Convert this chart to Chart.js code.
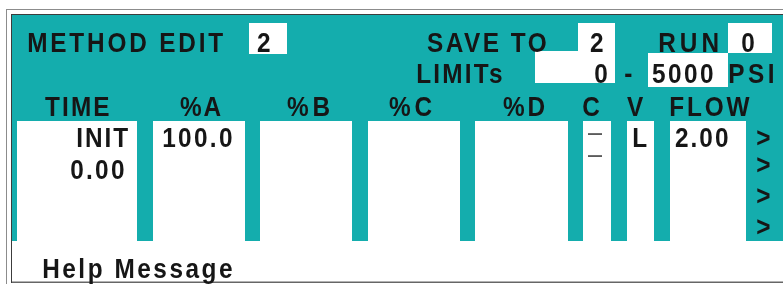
<!DOCTYPE html>
<html>
<head>
<meta charset="utf-8">
<script src="https://cdn.jsdelivr.net/npm/chart.js@4/dist/chart.umd.min.js"></script>
<style>
  html, body { margin: 0; padding: 0; background: #ffffff; }
  #wrap { width: 783px; height: 285px; position: relative; }
</style>
</head>
<body>
<div id="wrap"><canvas id="c"></canvas></div>
<script>
// ---- Screen content (data) ----
const columnHeaders = ['TIME', '%A', '%B', '%C', '%D', 'C', 'V', 'FLOW'];
const timeValues = ['INIT', '0.00'];
const pctAValues = ['100.0'];
const valveValues = ['L'];
const flowValues = ['2.00'];
const methodNumber = '2';
const saveToNumber = '2';
const runNumber = '0';
const limitLow = '0';
const limitHigh = '5000';
const helpText = 'Help Message';

// ---- Layout (screen units, mapped through the chart scales) ----
const layout = {
  colLeft:  [17, 153, 260, 368, 475, 583, 627, 670],
  colRight: [137, 245, 352, 460, 568, 611, 654, 746],
  headerInk: [[45,109],[180,221],[287,329],[389,432],[503,545],[583,601],[627,647],[670,750]],
  cellTop: 121, cellBottom: 241
};

const TEAL = '#14adad';
const INK = '#161616';
const HSCALE = 0.87;

function rect(x0, x1, y0, y1) { return { x: [x0, x1], y: (y0 + y1) / 2, h: y1 - y0 }; }
function ds(label, rects, color, order) {
  return {
    label, order,
    data: rects.map(r => ({ x: r.x, y: r.y })),
    backgroundColor: color,
    barThickness: rects[0].h,
    grouped: false,
    borderWidth: 0,
    inflateAmount: 0
  };
}

const cellRects = layout.colLeft.map((l, i) => rect(l, layout.colRight[i], layout.cellTop, layout.cellBottom));

const datasets = [
  ds('teal panel', [rect(12, 783, 15, 241)], TEAL, 20),
  ds('outer frame v', [rect(6, 7, 9, 284)], '#8c8c8c', 19),
  ds('outer frame h', [rect(6, 783, 9, 10)], '#8c8c8c', 19),
  ds('inner frame v', [rect(11, 12, 14, 283)], '#3c3c3c', 18),
  ds('inner frame h', [rect(11, 783, 14, 15)], '#3c3c3c', 18),
  ds('bottom line', [rect(11, 783, 281.5, 283)], '#666666', 18),
  ds('cells', cellRects, '#ffffff', 10),
  ds('method box', [rect(249, 287, 23, 54)], '#ffffff', 9),
  ds('save box', [rect(578, 615, 23, 51)], '#ffffff', 9),
  ds('limit low box', [rect(535, 615, 51, 83)], '#ffffff', 9),
  ds('run box', [rect(728, 772, 23, 53)], '#ffffff', 9),
  ds('limit high box', [rect(648, 728, 53, 87)], '#ffffff', 9),
  ds('dash 1', [rect(588, 602, 133.3, 134.8)], '#333333', 2),
  ds('dash 2', [rect(588, 602, 155.3, 156.8)], '#333333', 2)
];

// Text items: [text, inkLeft, inkRight, y, mode]  mode 'bottom' = y is ink bottom, else baseline
const texts = [
  ['METHOD EDIT', 28, 223, 52],
  [methodNumber, 257, 272, 52],
  ['SAVE TO', 427, 546, 52],
  [saveToNumber, 590, 603, 52],
  ['RUN', 659, 718, 52],
  [runNumber, 742, 753, 52],
  ['LIMITs', 417, 502, 83],
  [limitLow, 595, 607, 83],
  ['-', 625, 631, 83],
  [limitHigh, 652, 713, 83],
  ['PSI', 729, 773, 83],
  [timeValues[0], 77, 128, 147],
  [timeValues[1], 71, 124, 179],
  [pctAValues[0], 163, 232, 147],
  [valveValues[0], 633, 646, 147],
  [flowValues[0], 675, 728, 147],
  ['>', 757, 769, 146, 'bottom'],
  ['>', 757, 769, 173, 'bottom'],
  ['>', 757, 769, 204, 'bottom'],
  ['>', 757, 769, 235, 'bottom'],
  [helpText, 43, 232, 278]
];
columnHeaders.forEach((h, i) => texts.push([h, layout.headerInk[i][0], layout.headerInk[i][1], 116]));

const textPlugin = {
  id: 'screenText',
  afterDatasetsDraw(chart) {
    const ctx = chart.ctx;
    const xs = chart.scales.x, ys = chart.scales.y;
    const font = 'bold 28px "Liberation Sans", Arial, sans-serif';
    texts.forEach(([t, l, r, y, mode]) => {
      ctx.save();
      ctx.fillStyle = INK;
      ctx.textAlign = 'left';
      ctx.textBaseline = 'alphabetic';
      ctx.font = font;
      ctx.letterSpacing = '0px';
      const m = ctx.measureText(t);
      const ink = (m.actualBoundingBoxLeft + m.actualBoundingBoxRight) * HSCALE;
      const n = [...t].length;
      const left = xs.getPixelForValue(l), right = xs.getPixelForValue(r);
      let sp = n > 1 ? (right - left - ink) / (n - 1) / HSCALE : 0;
      sp = Math.max(-3, Math.min(10, sp));
      ctx.letterSpacing = sp.toFixed(2) + 'px';
      let py = ys.getPixelForValue(y);
      if (mode === 'bottom') py = py - m.actualBoundingBoxDescent;
      ctx.translate(left + m.actualBoundingBoxLeft * HSCALE, py);
      ctx.scale(HSCALE, 1);
      ctx.fillText(t, 0, 0);
      ctx.restore();
    });
  }
};

new Chart(document.getElementById('c'), {
  type: 'bar',
  data: { datasets },
  options: {
    indexAxis: 'y',
    responsive: true,
    maintainAspectRatio: false,
    animation: false,
    layout: { padding: 0 },
    plugins: { legend: { display: false }, tooltip: { enabled: false } },
    scales: {
      x: { type: 'linear', min: 0, max: 783, display: false, offset: false },
      y: { type: 'linear', min: 0, max: 285, reverse: true, display: false, offset: false }
    }
  },
  plugins: [textPlugin]
});
</script>
</body>
</html>
